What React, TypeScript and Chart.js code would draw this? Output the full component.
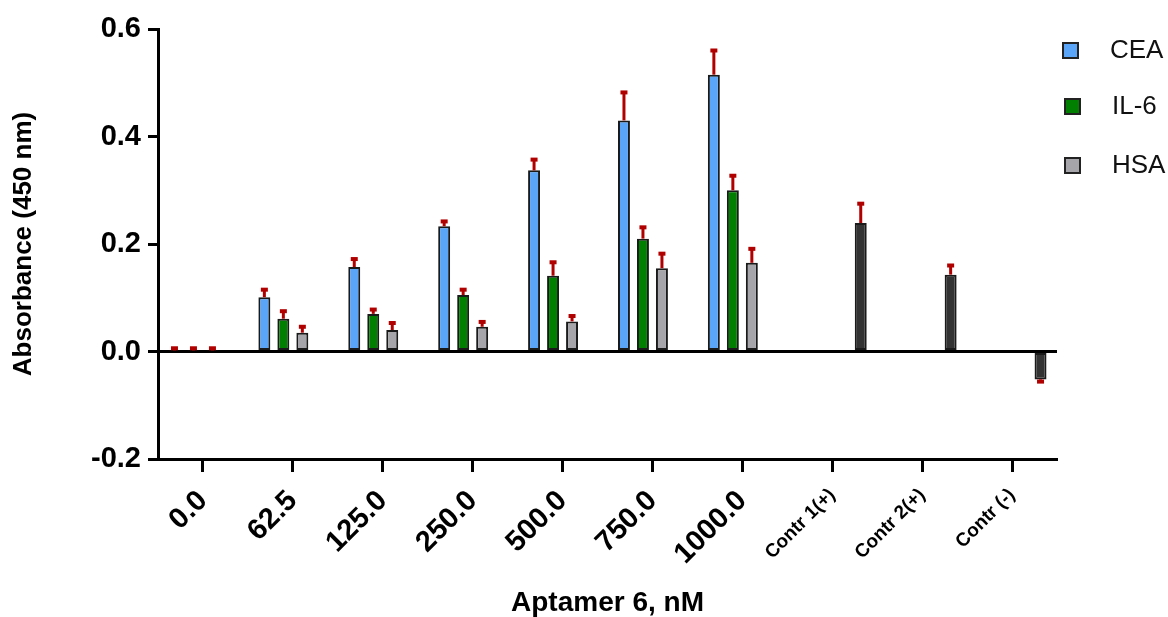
import React, { useEffect, useRef } from "react";
import { Chart, registerables } from "chart.js";

Chart.register(...registerables);

const categories = ["0.0", "62.5", "125.0", "250.0", "500.0", "750.0", "1000.0", "Contr 1(+)", "Contr 2(+)", "Contr (-)"];
const ceaValues = [0.002, 0.101, 0.157, 0.233, 0.337, 0.43, 0.515, null, null, null];
const ceaErrors = [0.004, 0.014, 0.015, 0.009, 0.02, 0.052, 0.045, null, null, null];
const il6Values = [0.002, 0.061, 0.07, 0.105, 0.141, 0.21, 0.3, null, null, null];
const il6Errors = [0.004, 0.014, 0.008, 0.01, 0.025, 0.021, 0.027, null, null, null];
const hsaValues = [0.002, 0.035, 0.04, 0.046, 0.056, 0.155, 0.165, null, null, null];
const hsaErrors = [0.004, 0.011, 0.013, 0.009, 0.01, 0.027, 0.026, null, null, null];
const controlValues = [null, null, null, null, null, null, null, 0.239, 0.143, -0.052];
const controlErrors = [null, null, null, null, null, null, null, 0.036, 0.017, 0.004];
const yTicks = [-0.2, 0.0, 0.2, 0.4, 0.6];

const legendNames = ["CEA", "IL-6", "HSA"];
const colors = ["#5aa5f8", "#007f00", "#a6a6aa", "#333333"];
const FONT = "'Liberation Sans', Arial, Helvetica, sans-serif";

const errorBarPlugin = {
  id: "errorBars",
  afterDatasetsDraw(chart: any) {
    const ctx = chart.ctx;
    const y = chart.scales.y;
    chart.data.datasets.forEach((ds: any, i: number) => {
      const meta = chart.getDatasetMeta(i);
      meta.data.forEach((el: any, j: number) => {
        const v = ds.data[j];
        const e = ds.errors[j];
        if (v === null || e === null || e === undefined) return;
        const sign = v < 0 ? -1 : 1;
        const yEnd = y.getPixelForValue(v + sign * e);
        const yStart = y.getPixelForValue(v);
        ctx.save();
        ctx.strokeStyle = "#b00000";
        ctx.lineWidth = 3;
        ctx.beginPath();
        ctx.moveTo(el.x, yStart);
        ctx.lineTo(el.x, yEnd);
        ctx.stroke();
        ctx.fillStyle = "#b00000";
        ctx.fillRect(el.x - 3.5, yEnd - 2, 7, 4);
        ctx.restore();
      });
    });
  },
};

const legendPlugin = {
  id: "customLegend",
  afterDraw(chart: any) {
    const ctx = chart.ctx;
    const items = [
      { box: [1062, 42], text: [1110, 51] },
      { box: [1064, 98], text: [1112, 107] },
      { box: [1064, 157], text: [1112, 166] },
    ];
    ctx.save();
    items.forEach((it, i) => {
      ctx.fillStyle = colors[i];
      ctx.fillRect(it.box[0], it.box[1], 17, 17);
      ctx.strokeStyle = "#222";
      ctx.lineWidth = 2;
      ctx.strokeRect(it.box[0] + 1, it.box[1] + 1, 15, 15);
      ctx.fillStyle = "#111";
      ctx.font = `26px ${FONT}`;
      ctx.textAlign = "left";
      ctx.textBaseline = "middle";
      ctx.fillText(legendNames[i], it.text[0], it.text[1]);
    });
    ctx.restore();
  },
};

export default function App() {
  const ref = useRef<HTMLCanvasElement>(null);
  useEffect(() => {
    if (!ref.current) return;
    Chart.defaults.font.family = FONT;
    const mk = (label: string, data: any[], errors: any[], i: number) => ({
      label,
      data,
      errors,
      backgroundColor: colors[i],
      borderColor: "#1a1a1a",
      borderWidth: 2,
      borderSkipped: false,
      categoryPercentage: 0.845,
      barPercentage: 0.63,
    });
    const chart = new Chart(ref.current, {
      type: "bar",
      data: {
        labels: categories,
        datasets: [
          mk("CEA", ceaValues, ceaErrors, 0),
          mk("IL-6", il6Values, il6Errors, 1),
          mk("HSA", hsaValues, hsaErrors, 2),
          mk("Control", controlValues, controlErrors, 3),
        ] as any,
      },
      options: {
        responsive: false,
        animation: false,
        layout: { padding: { top: 29, right: 111, bottom: 0, left: 0 } },
        plugins: { legend: { display: false }, tooltip: { enabled: false } },
        scales: {
          x: {
            offset: true,
            grid: {
              display: true,
              offset: false,
              drawOnChartArea: false,
              drawTicks: true,
              tickLength: 13,
              tickWidth: 3,
              tickColor: "#000",
            },
            border: { display: true, color: "#000", width: 3 },
            ticks: {
              autoSkip: false,
              maxRotation: 45,
              minRotation: 45,
              padding: 12,
              color: "#000",
              font: (c: any) => (c.index >= 7 ? { size: 19, weight: "bold" } : { size: 29, weight: "bold" }),
            },
            title: {
              display: true,
              text: "Aptamer 6, nM",
              color: "#000",
              font: { size: 28, weight: "bold", lineHeight: 1 },
              padding: { top: 0, bottom: 0 },
            },
            afterFit: (s: any) => {
              s.height = 158;
            },
          },
          y: {
            min: -0.2,
            max: 0.6,
            afterBuildTicks: (s: any) => {
              s.ticks = yTicks.map((v) => ({ value: v }));
            },
            grid: {
              display: true,
              drawTicks: true,
              tickLength: 10,
              tickWidth: 3,
              tickColor: "#000",
              lineWidth: 3,
              color: (c: any) => (c.tick && Math.abs(c.tick.value) < 1e-9 ? "#000" : "rgba(0,0,0,0)"),
            },
            border: { display: true, color: "#000", width: 3 },
            ticks: {
              padding: 7,
              color: "#000",
              font: { size: 29, weight: "bold" },
              callback: (v: any) => Number(v).toFixed(1),
            },
            title: {
              display: true,
              text: "Absorbance (450 nm)",
              color: "#000",
              font: { size: 26, weight: "bold", lineHeight: 1 },
              padding: { top: 11, bottom: 0 },
            },
            afterFit: (s: any) => {
              s.width = 158;
            },
          },
        },
      },
      plugins: [errorBarPlugin, legendPlugin],
    });
    return () => chart.destroy();
  }, []);
  return (
    <div style={{ position: "fixed", left: 0, top: 0, width: 1168, height: 617, background: "#fff" }}>
      <canvas ref={ref} width={1168} height={617} style={{ display: "block" }} />
    </div>
  );
}
